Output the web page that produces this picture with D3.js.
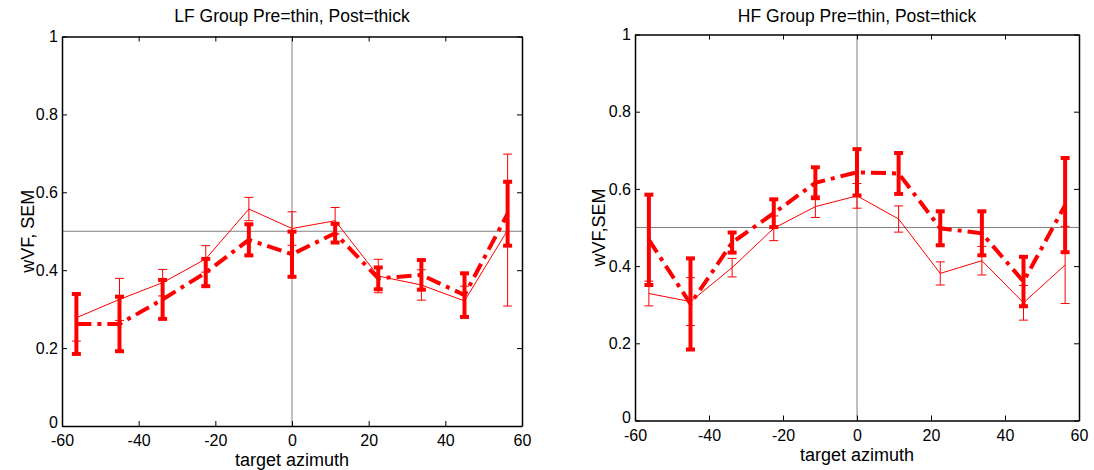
<!DOCTYPE html>
<html>
<head>
<meta charset="utf-8">
<script src="https://cdn.jsdelivr.net/npm/d3@7"></script>
<style>
  body { margin: 0; background: #fff; }
  text { font-family: "Liberation Sans", Arial, sans-serif; fill: #000; }
</style>
</head>
<body>
<script>
// target azimuths (deg)
var azimuth = [-56.25, -45, -33.75, -22.5, -11.25, 0, 11.25, 22.5, 33.75, 45, 56.25];

// LF group
var lfPre = [0.278, 0.325, 0.368, 0.429, 0.557, 0.507, 0.527, 0.385, 0.362, 0.321, 0.503];
var lfPreSem = [0.06, 0.054, 0.034, 0.034, 0.03, 0.043, 0.034, 0.043, 0.039, 0.038, 0.195];
var lfPost = [0.262, 0.262, 0.325, 0.394, 0.478, 0.441, 0.495, 0.379, 0.388, 0.336, 0.545];
var lfPostSem = [0.077, 0.07, 0.05, 0.035, 0.04, 0.058, 0.024, 0.028, 0.038, 0.056, 0.082];

// HF group
var hfPre = [0.329, 0.308, 0.396, 0.498, 0.554, 0.582, 0.522, 0.381, 0.414, 0.305, 0.403];
var hfPreSem = [0.032, 0.062, 0.024, 0.032, 0.028, 0.032, 0.034, 0.03, 0.037, 0.045, 0.1];
var hfPost = [0.468, 0.302, 0.461, 0.537, 0.616, 0.643, 0.64, 0.498, 0.485, 0.36, 0.558];
var hfPostSem = [0.117, 0.118, 0.026, 0.036, 0.04, 0.06, 0.053, 0.044, 0.057, 0.064, 0.122];

var xTicks = [-60, -40, -20, 0, 20, 40, 60];
var yTicks = [0, 0.2, 0.4, 0.6, 0.8, 1];

var svg = d3.select("body").append("svg")
    .attr("width", 1094)
    .attr("height", 470);

function plain(d) { return String(d); }

function panel(opt) {
    var x = d3.scaleLinear().domain([-60, 60]).range([opt.left, opt.right]);
    var y = d3.scaleLinear().domain([0, 1]).range([opt.bottom, opt.top]);
    var g = svg.append("g");

    // reference lines
    g.append("line")
        .attr("x1", x(0)).attr("x2", x(0))
        .attr("y1", y(0)).attr("y2", y(1))
        .style("stroke", "#808080").style("stroke-width", 1);
    g.append("line")
        .attr("x1", x(-60)).attr("x2", x(60))
        .attr("y1", y(0.5)).attr("y2", y(0.5))
        .style("stroke", "#808080").style("stroke-width", 1);

    // axes, ticks inward like matlab
    g.append("g").attr("transform", "translate(0," + y(0) + ")")
        .call(d3.axisBottom(x).tickValues(xTicks).tickSizeInner(-5).tickSizeOuter(0).tickPadding(9).tickFormat(plain));
    g.append("g").attr("transform", "translate(0," + y(1) + ")")
        .call(d3.axisTop(x).tickValues(xTicks).tickSizeInner(-5).tickSizeOuter(0).tickFormat(""));
    var yAx = g.append("g").attr("transform", "translate(" + x(-60) + ",0)")
        .call(d3.axisLeft(y).tickValues(yTicks).tickSizeInner(-5).tickSizeOuter(0).tickPadding(4).tickFormat(plain));
    g.append("g").attr("transform", "translate(" + x(60) + ",0)")
        .call(d3.axisRight(y).tickValues(yTicks).tickSizeInner(-5).tickSizeOuter(0).tickFormat(""));
    g.selectAll(".domain").style("stroke", "#000").style("stroke-width", 1.5);
    g.selectAll(".tick line").style("stroke", "#000");
    g.selectAll(".tick text").style("font-size", "16px").style("font-family", "Liberation Sans, Arial, sans-serif");
    // lift the "0" a little so it clears the -60 below it
    yAx.selectAll(".tick text").filter(function (d) { return d === 0; }).attr("dy", "0.1em");

    function series(vals, sem, lw, dash, capW, capLw, barLw) {
        var pts = azimuth.map(function (a, i) { return { a: a, v: vals[i], s: sem[i] }; });
        var line = d3.line().x(function (d) { return x(d.a); }).y(function (d) { return y(d.v); });
        g.append("path").datum(pts)
            .attr("d", line)
            .style("fill", "none")
            .style("stroke", "#ff0000")
            .style("stroke-width", lw)
            .style("stroke-dasharray", dash);
        var eb = g.append("g").selectAll("g").data(pts).enter().append("g");
        eb.append("line")
            .attr("x1", function (d) { return x(d.a); })
            .attr("x2", function (d) { return x(d.a); })
            .attr("y1", function (d) { return y(d.v - d.s); })
            .attr("y2", function (d) { return y(d.v + d.s); })
            .style("stroke", "#ff0000").style("stroke-width", barLw);
        [-1, 1].forEach(function (k) {
            eb.append("line")
                .attr("x1", function (d) { return x(d.a) - capW; })
                .attr("x2", function (d) { return x(d.a) + capW; })
                .attr("y1", function (d) { return y(d.v + k * d.s); })
                .attr("y2", function (d) { return y(d.v + k * d.s); })
                .style("stroke", "#ff0000").style("stroke-width", capLw);
        });
    }

    series(opt.pre, opt.preSem, 1, null, 4.5, 1, 1);
    series(opt.post, opt.postSem, 4, "15,6,4,6", 4.5, 4, 4);

    // texts
    svg.append("text")
        .attr("x", x(0)).attr("y", 22)
        .attr("text-anchor", "middle")
        .style("font-size", "17.5px")
        .text(opt.title);
    svg.append("text")
        .attr("x", x(0)).attr("y", opt.xlabY)
        .attr("text-anchor", "middle")
        .style("font-size", "18px")
        .text("target azimuth");
    svg.append("text")
        .attr("transform", "translate(" + opt.ylabX + "," + y(0.5) + ") rotate(-90)")
        .attr("text-anchor", "middle")
        .style("font-size", "18px")
        .text(opt.ylab);
}

panel({
    left: 62, right: 522, top: 36.5, bottom: 426,
    pre: lfPre, preSem: lfPreSem, post: lfPost, postSem: lfPostSem,
    title: "LF Group Pre=thin, Post=thick", ylab: "wVF, SEM",
    xlabY: 466, ylabX: 34
});

panel({
    left: 635, right: 1079, top: 34.5, bottom: 420.5,
    pre: hfPre, preSem: hfPreSem, post: hfPost, postSem: hfPostSem,
    title: "HF Group Pre=thin, Post=thick", ylab: "wVF,SEM",
    xlabY: 461, ylabX: 605
});
</script>
</body>
</html>
